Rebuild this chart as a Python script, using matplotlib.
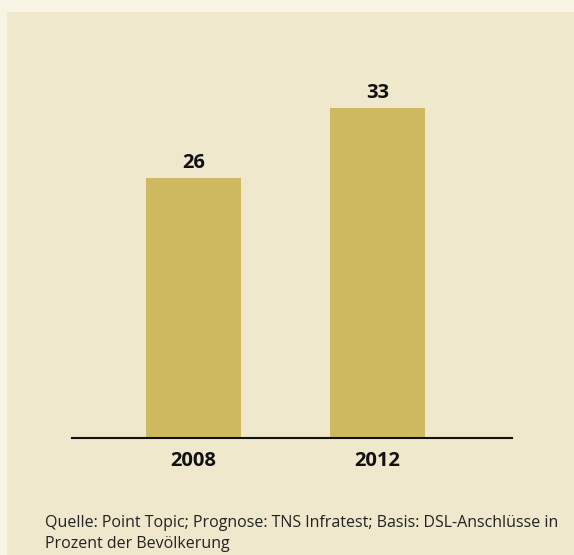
import matplotlib
matplotlib.use("Agg")
import matplotlib.pyplot as plt
from matplotlib.patches import Rectangle

# DSL share of population, in percent
years = ["2008", "2012"]
values = [26, 33]
source = ("Quelle: Point Topic; Prognose: TNS Infratest; Basis: DSL-Anschlüsse in\n"
          "Prozent der Bevölkerung")

W, H = 574, 555
fig = plt.figure(figsize=(W / 100, H / 100), dpi=100)
fig.patch.set_facecolor("#f8f4e4")

# inner panel
fig.patches.append(Rectangle((7 / W, 0), 1 - 7 / W, 1 - 12 / H,
                             transform=fig.transFigure, facecolor="#efe8cc",
                             edgecolor="none", zorder=-1))

# axes placed in pixel terms: baseline at y=438, 10 px per unit
left, right = 72, 512
bottom, top = 438, 38
ax = fig.add_axes([left / W, 1 - bottom / H, (right - left) / W, (bottom - top) / H])
ax.set_facecolor("none")
ax.set_zorder(1)

x = [0, 1]
ax.bar(x, values, width=95 / 184, color="#cfb960", zorder=2)
ax.set_xlim((left - 193.5) / 184, (right - 193.5) / 184)
ax.set_ylim(0, 40)

for xi, v in zip(x, values):
    ax.text(xi, v + 0.45, str(v), ha="center", va="bottom",
            fontsize=14.5, fontweight="bold", family="Open Sans", color="#111111")

for s in ["top", "right", "left"]:
    ax.spines[s].set_visible(False)
ax.spines["bottom"].set_linewidth(1.5)
ax.spines["bottom"].set_color("#111111")
ax.set_yticks([])
ax.set_xticks(x)
ax.set_xticklabels(years, fontsize=14.5, fontweight="bold", family="Open Sans", color="#111111")
ax.tick_params(axis="x", length=0, pad=9)

fig.text(45 / W, 1 - 515 / H, source, ha="left", va="top", fontsize=11.5,
         family="Open Sans", color="#222222", linespacing=1.4)

fig.savefig("out.png", dpi=100, facecolor=fig.get_facecolor())
